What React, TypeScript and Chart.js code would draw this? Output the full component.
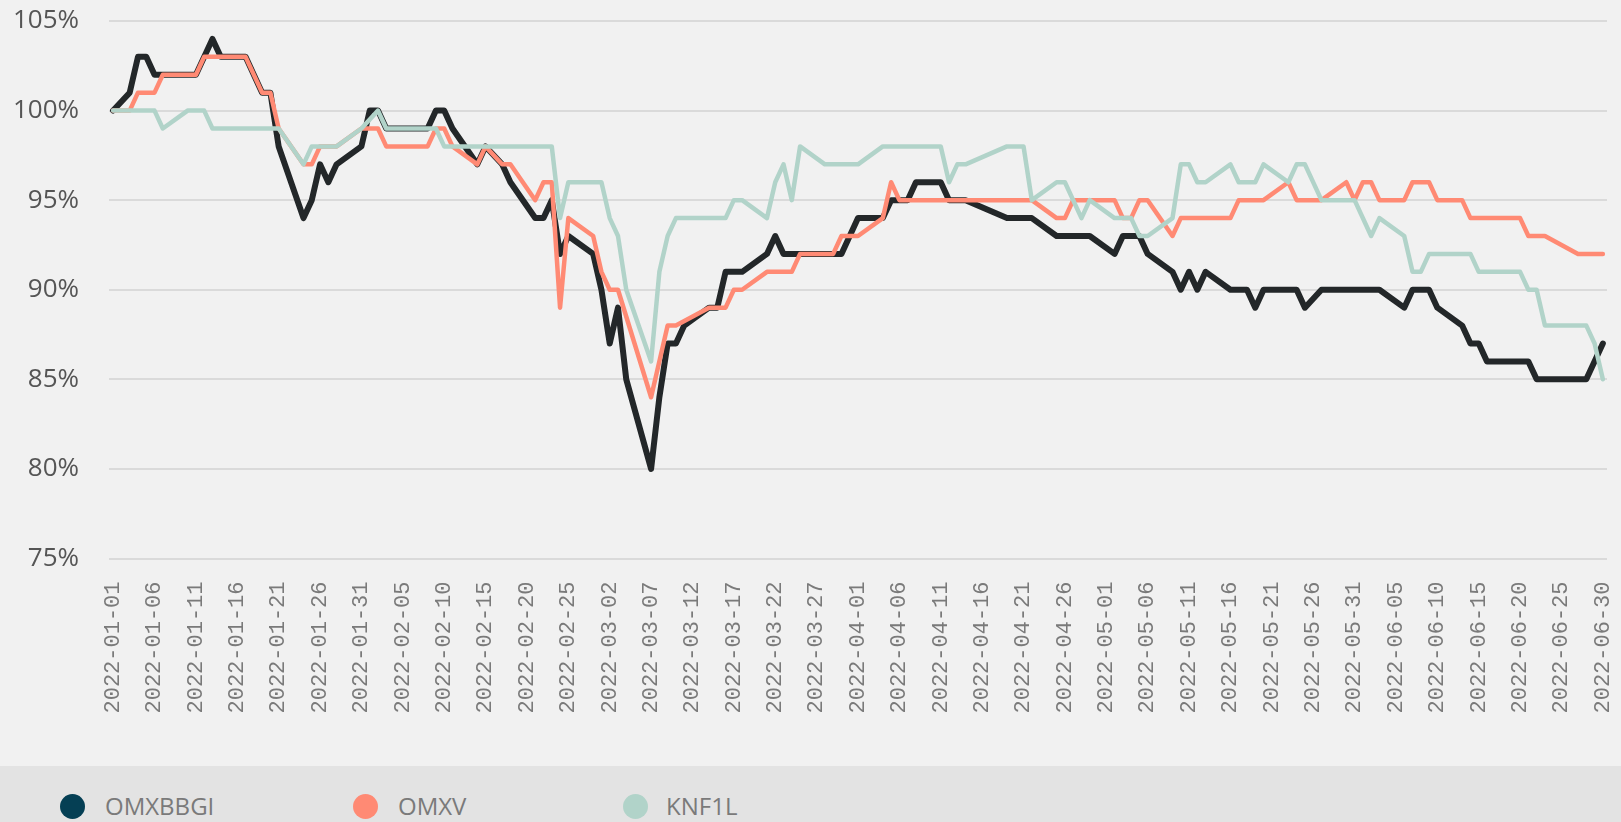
import React, { useEffect, useRef } from "react";
import { Chart, registerables } from "chart.js";

Chart.register(...registerables);

// ---- categories: every calendar day from 2022-01-01 to 2022-06-30 ----
const FIRST_DAY_UTC = Date.UTC(2022, 0, 1);
const DAY_COUNT = 181;
const dates: string[] = Array.from({ length: DAY_COUNT }, (_, i) =>
  new Date(FIRST_DAY_UTC + i * 86400000).toISOString().slice(0, 10)
);

// ---- series values (day index into `dates`, value in %) ----
const omxbbgiDays = [
  0, 2, 3, 4, 5, 10, 12, 13, 16, 18, 19, 20, 23, 24, 25, 26, 27, 30, 31, 32, 33, 38, 39, 40, 41, 44, 45, 47, 48, 51,
  52, 53, 54, 55, 58, 59, 60, 61, 62, 65, 66, 67, 68, 69, 72, 73, 74, 76, 79, 80, 81, 88, 90, 93, 94, 96, 97, 100,
  101, 103, 108, 111, 114, 118, 121, 122, 124, 125, 128, 129, 130, 131, 132, 135, 137, 138, 139, 143, 144, 146, 153,
  156, 157, 159, 160, 163, 164, 165, 166, 171, 172, 178, 180,
];
const omxbbgiValues = [
  100, 101, 103, 103, 102, 102, 104, 103, 103, 101, 101, 98, 94, 95, 97, 96, 97, 98, 100, 100, 99, 99, 100, 100, 99,
  97, 98, 97, 96, 94, 94, 95, 92, 93, 92, 90, 87, 89, 85, 80, 84, 87, 87, 88, 89, 89, 91, 91, 92, 93, 92, 92, 94, 94,
  95, 95, 96, 96, 95, 95, 94, 94, 93, 93, 92, 93, 93, 92, 91, 90, 91, 90, 91, 90, 90, 89, 90, 90, 89, 90, 90, 89, 90,
  90, 89, 88, 87, 87, 86, 86, 85, 85, 87,
];

const omxvDays = [
  0, 2, 3, 5, 6, 10, 11, 16, 18, 19, 20, 23, 24, 25, 27, 30, 32, 33, 38, 39, 40, 41, 44, 45, 47, 48, 51, 52, 53, 54,
  55, 58, 59, 60, 61, 65, 67, 68, 72, 74, 75, 76, 79, 82, 83, 87, 88, 90, 93, 94, 95, 111, 114, 115, 116, 121, 122,
  123, 124, 125, 128, 129, 135, 136, 139, 142, 143, 146, 149, 150, 151, 152, 153, 156, 157, 159, 160, 163, 164, 170,
  171, 173, 177, 180,
];
const omxvValues = [
  100, 100, 101, 101, 102, 102, 103, 103, 101, 101, 99, 97, 97, 98, 98, 99, 99, 98, 98, 99, 99, 98, 97, 98, 97, 97,
  95, 96, 96, 89, 94, 93, 91, 90, 90, 84, 88, 88, 89, 89, 90, 90, 91, 91, 92, 92, 93, 93, 94, 96, 95, 95, 94, 94, 95,
  95, 94, 94, 95, 95, 93, 94, 94, 95, 95, 96, 95, 95, 96, 95, 96, 96, 95, 95, 96, 96, 95, 95, 94, 94, 93, 93, 92, 92,
];

const knf1lDays = [
  0, 5, 6, 9, 11, 12, 20, 23, 24, 27, 30, 32, 33, 39, 40, 53, 54, 55, 59, 60, 61, 62, 65, 66, 67, 68, 74, 75, 76, 79,
  80, 81, 82, 83, 86, 90, 93, 100, 101, 102, 103, 108, 110, 111, 114, 115, 117, 118, 121, 123, 124, 125, 128, 129,
  130, 131, 132, 135, 136, 138, 139, 142, 143, 144, 146, 150, 152, 153, 156, 157, 158, 159, 164, 165, 170, 171, 172,
  173, 178, 179, 180,
];
const knf1lValues = [
  100, 100, 99, 100, 100, 99, 99, 97, 98, 98, 99, 100, 99, 99, 98, 98, 94, 96, 96, 94, 93, 90, 86, 91, 93, 94, 94, 95,
  95, 94, 96, 97, 95, 98, 97, 97, 98, 98, 96, 97, 97, 98, 98, 95, 96, 96, 94, 95, 94, 94, 93, 93, 94, 97, 97, 96, 96,
  97, 96, 96, 97, 96, 97, 97, 95, 95, 93, 94, 93, 91, 91, 92, 92, 91, 91, 90, 90, 88, 88, 87, 85,
];

const yTickValues = [75, 80, 85, 90, 95, 100, 105];
const seriesNames = ["OMXBBGI", "OMXV", "KNF1L"];

const lineColors = ["#232729", "#ff8a74", "#b1d3c9"];
const legendColors = ["#053f54", "#ff8a74", "#b1d3c9"];

const toPoints = (days: number[], values: number[]) =>
  days.map((d, k) => ({ x: dates[d], y: values[k] }));

export default function App() {
  const canvasRef = useRef<HTMLCanvasElement | null>(null);

  useEffect(() => {
    const canvas = canvasRef.current;
    if (!canvas) return;
    const chart = new Chart(canvas, {
      type: "line",
      data: {
        labels: dates,
        datasets: [
          {
            label: seriesNames[0],
            data: toPoints(omxbbgiDays, omxbbgiValues),
            borderColor: lineColors[0],
            backgroundColor: legendColors[0],
            borderWidth: 6,
            order: 3,
          },
          {
            label: seriesNames[1],
            data: toPoints(omxvDays, omxvValues),
            borderColor: lineColors[1],
            backgroundColor: legendColors[1],
            borderWidth: 4.5,
            order: 2,
          },
          {
            label: seriesNames[2],
            data: toPoints(knf1lDays, knf1lValues),
            borderColor: lineColors[2],
            backgroundColor: legendColors[2],
            borderWidth: 4.5,
            order: 1,
          },
        ],
      },
      options: {
        responsive: false,
        animation: false,
        events: [],
        layout: { padding: { top: 21, right: 14, left: 0, bottom: 0 } },
        elements: {
          point: { radius: 0, hoverRadius: 0 },
          line: { tension: 0, borderJoinStyle: "round", borderCapStyle: "round", fill: false },
        },
        plugins: {
          legend: { display: false },
          tooltip: { enabled: false },
          title: { display: false },
        },
        scales: {
          x: {
            type: "category",
            offset: true,
            grid: { display: false, drawTicks: false },
            border: { display: false },
            ticks: {
              autoSkip: false,
              minRotation: 90,
              maxRotation: 90,
              padding: 23,
              color: "#7a7a7a",
              font: { family: "'Liberation Mono', 'DejaVu Sans Mono', monospace", size: 22 },
              callback: (_v: any, i: number) => (i % 5 === 0 ? dates[i] : null),
            },
            afterFit: (scale: any) => {
              scale.height = 207.5;
              scale.paddingLeft = 0;
              scale.paddingRight = 0;
            },
          },
          y: {
            min: 75,
            max: 105,
            afterBuildTicks: (scale: any) => {
              scale.ticks = yTickValues.map((v) => ({ value: v }));
            },
            grid: { color: "#dadada", lineWidth: 2, drawTicks: false },
            border: { display: false },
            ticks: {
              padding: 30,
              color: "#555555",
              font: { family: "'Segoe UI', 'Open Sans', sans-serif", size: 26 },
              callback: (v: any) => `${v}%`,
            },
            afterFit: (scale: any) => {
              scale.width = 109;
              scale.paddingTop = 0;
              scale.paddingBottom = 0;
            },
          },
        },
      },
    });
    return () => chart.destroy();
  }, []);

  const dotCenters = [72, 365, 635];
  const textLefts = [105, 398, 666];

  return (
    <div
      style={{
        position: "absolute",
        left: 0,
        top: 0,
        width: 1621,
        height: 822,
        background: "#f1f1f1",
        overflow: "hidden",
      }}
    >
      <canvas
        ref={canvasRef}
        width={1621}
        height={766}
        style={{ position: "absolute", left: 0, top: 0, width: 1621, height: 766 }}
      />
      <div
        style={{
          position: "absolute",
          left: 0,
          top: 766,
          width: 1621,
          height: 56,
          background: "#e3e3e3",
          fontFamily: "'Segoe UI', 'Open Sans', sans-serif",
          fontSize: 24,
          color: "#7a7a7a",
        }}
      >
        {seriesNames.map((name, i) => (
          <React.Fragment key={name}>
            <span
              style={{
                position: "absolute",
                left: dotCenters[i] - 12.5,
                top: 27.5,
                width: 25,
                height: 25,
                borderRadius: "50%",
                background: legendColors[i],
              }}
            />
            <span
              style={{
                position: "absolute",
                left: textLefts[i],
                top: 28,
                lineHeight: "24px",
                whiteSpace: "nowrap",
              }}
            >
              {name}
            </span>
          </React.Fragment>
        ))}
      </div>
    </div>
  );
}
